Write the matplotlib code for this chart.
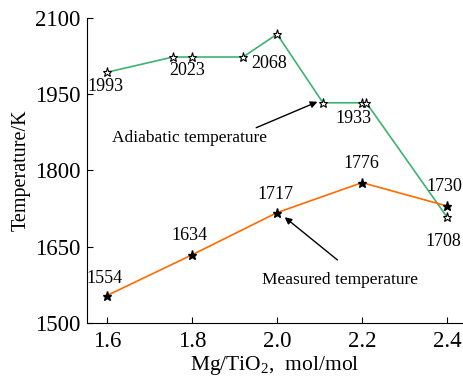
import numpy as np
import matplotlib
matplotlib.use('Agg')
import matplotlib.pyplot as plt

## plt config
plt.rcParams['font.family'] = ['Liberation Serif', 'DejaVu Serif']
plt.rcParams['mathtext.fontset'] = 'custom'
plt.rcParams['mathtext.rm'] = 'Liberation Serif'

## data
ratio_adi = [1.6, 1.755, 1.8, 1.92, 2.0, 2.108, 2.2, 2.21, 2.4]
temp_adi = [1993, 2023, 2023, 2023, 2068, 1933, 1933, 1933, 1708]
ratio_meas = [1.6, 1.8, 2.0, 2.2, 2.4]
temp_meas = [1554, 1634, 1717, 1776, 1730]

adi_labels = [(1.6, 1993, '1993'), (1.8, 2023, '2023'), (2.0, 2068, '2068'),
              (2.2, 1933, '1933'), (2.4, 1708, '1708')]
meas_labels = list(zip(ratio_meas, temp_meas, [str(t) for t in temp_meas]))

fig = plt.figure(figsize=(4.64, 3.80), dpi=100)
ax = fig.add_axes([0.1875, 0.15, 0.81, 0.803])

ax.plot(ratio_adi, temp_adi, color='#3cb371', lw=1.2, marker='*', ms=6.5,
        mfc='white', mec='black', mew=0.8, zorder=3)
ax.plot(ratio_meas, temp_meas, color='#ff6a00', lw=1.2, marker='*', ms=6.5,
        mfc='black', mec='black', zorder=3)

# value labels (offset in points)
adi_off = {'1993': (-1, -10.5), '2023': (-3.5, -9.5), '2068': (-6, -21.5),
           '1933': (-6, -11), '1708': (-3, -17.5)}
for x, y, s in adi_labels:
    dx, dy = adi_off[s]
    ax.annotate(s, (x, y), xytext=(dx, dy), textcoords='offset points',
                ha='center', va='center', fontsize=13)
meas_off = {'1554': (-2, 12.5), '1634': (-2, 14), '1717': (-1.5, 13),
            '1776': (-0.5, 14), '1730': (-2, 14)}
for x, y, s in meas_labels:
    dx, dy = meas_off[s]
    ax.annotate(s, (x, y), xytext=(dx, dy), textcoords='offset points',
                ha='center', va='center', fontsize=13)

ax.text(1.795, 1864, 'Adiabatic temperature', ha='center', va='center', fontsize=12.5)
ax.annotate('', xy=(2.095, 1935), xytext=(1.951, 1884),
            arrowprops=dict(arrowstyle='-|>', color='black', lw=1.0,
                            shrinkA=0, shrinkB=0, mutation_scale=10))
ax.text(2.147, 1584, 'Measured temperature', ha='center', va='center', fontsize=12.5)
ax.annotate('', xy=(2.018, 1708), xytext=(2.142, 1624),
            arrowprops=dict(arrowstyle='-|>', color='black', lw=1.0,
                            shrinkA=0, shrinkB=0, mutation_scale=10))

ax.set_xlim(1.553, 2.437)
ax.set_ylim(1500, 2100)
ax.set_xticks([1.6, 1.8, 2.0, 2.2, 2.4])
ax.set_xticklabels(['1.6', '1.8', '2.0', '2.2', '2.4'])
ax.set_yticks([1500, 1650, 1800, 1950, 2100])
ax.tick_params(direction='in', length=4, labelsize=16.5, width=0.8)
ax.tick_params(axis='x', pad=6)
ax.tick_params(axis='y', pad=5)
ax.spines['top'].set_visible(False)
ax.spines['right'].set_visible(False)
ax.set_xlabel(r'Mg/TiO$_2$,  mol/mol', fontsize=15.5, labelpad=1)
ax.set_ylabel('Temperature/K', fontsize=14.5, labelpad=3)

plt.savefig('out.png', dpi=100)
